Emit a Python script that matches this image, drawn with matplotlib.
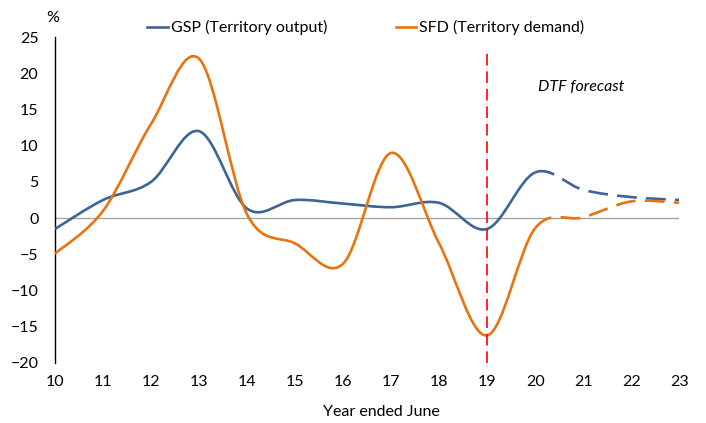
import numpy as np
import matplotlib.pyplot as plt
from matplotlib.path import Path
from matplotlib.patches import PathPatch

plt.rcParams['font.family'] = ['Lato', 'DejaVu Sans']

# data
years = [10, 11, 12, 13, 14, 15, 16, 17, 18, 19, 20, 21, 22, 23]
gsp = [-1.5, 2.5, 5.0, 12.0, 1.3, 2.5, 2.0, 1.5, 2.1, -1.5, 6.3, 3.9, 2.9, 2.5]
sfd = [-4.9, 1.0, 13.0, 22.0, 0.5, -3.5, -6.3, 9.0, -3.5, -16.2, -1.4, 0.1, 2.3, 2.1]
forecast_start = 20
xticks = list(range(10, 24))
yticks = list(range(-20, 30, 5))

blue = '#3C6496'
orange = '#E8730F'
fs = 11.5


def smooth_paths(x, y, split):
    # excel-like smoothed line: catmull-rom segments as cubic beziers
    pts = np.column_stack([x, y]).astype(float)
    n = len(pts)
    solid_v, solid_c, dash_v, dash_c = [], [], [], []
    for i in range(n - 1):
        p0 = pts[max(i - 1, 0)]
        p1 = pts[i]
        p2 = pts[i + 1]
        p3 = pts[min(i + 2, n - 1)]
        c1 = p1 + (p2 - p0) / 6
        c2 = p2 - (p3 - p1) / 6
        if x[i] < split:
            v, c = solid_v, solid_c
        else:
            v, c = dash_v, dash_c
        if not v:
            v.append(p1)
            c.append(Path.MOVETO)
        v.extend([c1, c2, p2])
        c.extend([Path.CURVE4] * 3)
    return Path(solid_v, solid_c), Path(dash_v, dash_c)


fig = plt.figure(figsize=(7.06, 4.23), dpi=100)
ax = fig.add_axes([0.078, 0.142, 0.884, 0.7705])

ax.axhline(0, color='#A6A6A6', lw=1.0, zorder=1)

for vals, col, lab in [(gsp, blue, 'GSP (Territory output)'),
                       (sfd, orange, 'SFD (Territory demand)')]:
    sp, dp = smooth_paths(years, vals, forecast_start)
    ax.add_patch(PathPatch(sp, fill=False, edgecolor=col, lw=1.9,
                           capstyle='butt', zorder=3))
    ax.add_patch(PathPatch(dp, fill=False, edgecolor=col, lw=1.9,
                           linestyle=(0, (7.5, 3.5)), capstyle='butt', zorder=3))
    ax.plot([], [], color=col, lw=1.9, label=lab)

ax.plot([19, 19], [-20, 22.8], color='#FF0000', lw=1.2,
        linestyle=(0, (7, 3.5)), zorder=4)

ax.text(20.95, 18.1, 'DTF forecast', style='italic', fontsize=fs,
        ha='center', va='center')

ax.set_xlim(10, 23)
ax.set_ylim(-20, 25)
ax.set_xticks(xticks)
ax.set_yticks(yticks)
ax.tick_params(axis='both', length=0, labelsize=fs)
ax.tick_params(axis='x', pad=9)
ax.tick_params(axis='y', pad=12)
for s in ['top', 'right', 'bottom']:
    ax.spines[s].set_visible(False)
ax.spines['left'].set_color('black')
ax.spines['left'].set_linewidth(1.0)

fig.text(0.074, 0.957, '%', fontsize=fs, ha='center', va='center')
fig.text(0.54, 0.026, 'Year ended June', fontsize=fs, ha='center', va='center')

fig.legend(*ax.get_legend_handles_labels(), loc='center',
           bbox_to_anchor=(0.518, 0.934), ncol=2, frameon=False,
           fontsize=fs, handlelength=1.3, handletextpad=0.15,
           columnspacing=4.3, borderpad=0)

fig.savefig('out.png', dpi=100)
